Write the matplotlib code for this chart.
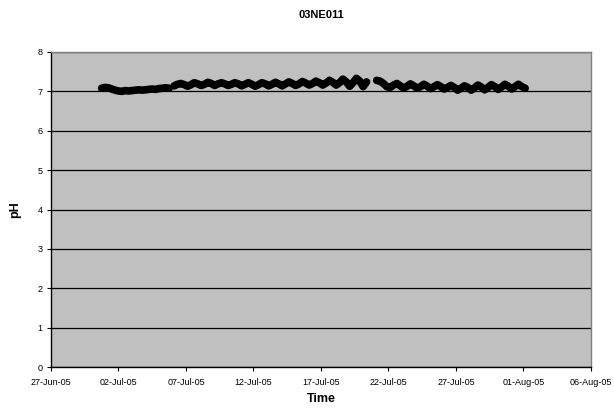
import matplotlib
matplotlib.use("Agg")
import matplotlib.pyplot as plt
import pandas as pd

plt.rcParams['font.family'] = ['Liberation Sans', 'DejaVu Sans']

title = "03NE011"
xlabel = "Time"
ylabel = "pH"

# 6-hourly pH readings, three logged segments
seg1_start = "2005-06-30 18:00"
seg1_ph = [7.08, 7.10, 7.09, 7.06, 7.03, 7.01, 7.00, 7.02, 7.01, 7.02, 7.03,
           7.04, 7.03, 7.04, 7.05, 7.06, 7.05, 7.07, 7.08, 7.09, 7.08]

seg2_start = "2005-07-06 03:00"
seg2_ph = [7.14, 7.18, 7.20, 7.17,
           7.13, 7.17, 7.22, 7.19,
           7.15, 7.18, 7.23, 7.20,
           7.15, 7.19, 7.22, 7.19,
           7.15, 7.18, 7.22, 7.19,
           7.14, 7.18, 7.22, 7.18,
           7.13, 7.17, 7.22, 7.19,
           7.14, 7.18, 7.23, 7.19,
           7.14, 7.19, 7.24, 7.20,
           7.15, 7.19, 7.25, 7.21,
           7.16, 7.20, 7.26, 7.22,
           7.16, 7.21, 7.28, 7.23,
           7.16, 7.22, 7.31, 7.24,
           7.13, 7.22, 7.33, 7.26,
           7.12, 7.24]

seg3_start = "2005-07-21 03:00"
seg3_ph = [7.28, 7.26, 7.20, 7.12,
           7.10, 7.16, 7.20, 7.14,
           7.08, 7.13, 7.19, 7.14,
           7.08, 7.12, 7.18, 7.13,
           7.07, 7.12, 7.17, 7.12,
           7.06, 7.10, 7.15, 7.10,
           7.03, 7.08, 7.14, 7.10,
           7.03, 7.09, 7.16, 7.11,
           7.04, 7.10, 7.17, 7.12,
           7.05, 7.11, 7.18, 7.13,
           7.06, 7.12, 7.18, 7.12,
           7.08]

x_start = "2005-06-27"
x_end = "2005-08-06"
y_ticks = [0, 1, 2, 3, 4, 5, 6, 7, 8]

fig = plt.figure(figsize=(6.14, 4.11), dpi=100)
ax = fig.add_axes([0.083, 0.107, 0.8795, 0.7665])
ax.set_facecolor('#C0C0C0')

segs = []
for start, vals in [(seg1_start, seg1_ph), (seg2_start, seg2_ph), (seg3_start, seg3_ph)]:
    t = pd.date_range(start, periods=len(vals), freq='6h')
    segs.append((t, vals))

# thin connector between first and second segment
ax.plot([segs[0][0][-1], segs[1][0][0]], [segs[0][1][-1], segs[1][1][0]],
        color='black', lw=1.2, zorder=3)
for t, vals in segs:
    ax.plot(t, vals, color='black', lw=5.5, solid_capstyle='round',
            solid_joinstyle='round', zorder=4)

ax.set_xlim(pd.Timestamp(x_start), pd.Timestamp(x_end))
ax.set_ylim(0, 8)
ax.set_yticks(y_ticks)
ax.yaxis.grid(True, color='black', lw=0.9)
ax.set_axisbelow(True)
ticks = pd.date_range(x_start, x_end, freq='5D')
ax.set_xticks(ticks)
ax.set_xticklabels([d.strftime('%d-%b-%y') for d in ticks])

ax.tick_params(axis='both', labelsize=6.5, direction='out', length=3, width=0.8, pad=3)
ax.tick_params(axis='x', pad=5)
for s in ['left', 'bottom']:
    ax.spines[s].set_color('black')
    ax.spines[s].set_linewidth(1)
for s in ['top', 'right']:
    ax.spines[s].set_color('#808080')
    ax.spines[s].set_linewidth(1)

ax.set_xlabel(xlabel, fontsize=9, fontweight='bold', labelpad=4)
ax.set_ylabel(ylabel, fontsize=9, fontweight='bold', labelpad=12)
fig.text(0.5 * (0.083 + 0.9625), 1 - 15 / 411, title, ha='center', va='center',
         fontsize=8, fontweight='bold')

fig.savefig('out.png', dpi=100, facecolor='white')
